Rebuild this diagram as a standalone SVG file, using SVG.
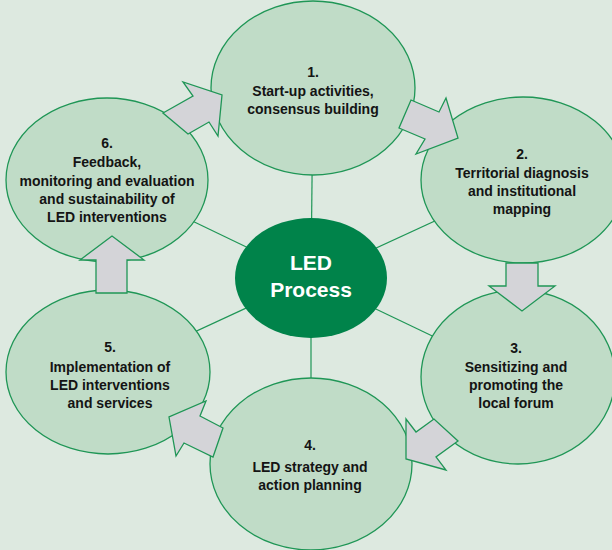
<svg xmlns="http://www.w3.org/2000/svg" width="612" height="550" viewBox="0 0 612 550">
<style>
.bg{fill:#dde9e0}
.node{fill:#c0dcc7;stroke:#1f9656;stroke-width:1.3}
.center{fill:#00834a}
.arrow{fill:#d4d4d8;stroke:#1f9656;stroke-width:1.3;stroke-linejoin:miter}
.conn{stroke:#1f9656;stroke-width:1.2;fill:none}
text{font-family:"Liberation Sans",Arial,sans-serif;font-weight:bold;font-size:14px;fill:#141414;text-anchor:middle}
.ct{font-size:21px;fill:#ffffff}
</style>
<rect class="bg" x="0" y="0" width="612" height="550"/>
<g id="connectors">
<line class="conn" x1="311" y1="278" x2="313" y2="88"/>
<line class="conn" x1="311" y1="278" x2="524" y2="180"/>
<line class="conn" x1="311" y1="278" x2="518" y2="377"/>
<line class="conn" x1="311" y1="278" x2="311" y2="464"/>
<line class="conn" x1="311" y1="278" x2="108" y2="372"/>
<line class="conn" x1="311" y1="278" x2="107" y2="180"/>
</g>
<g id="node1">
<ellipse class="node" cx="313" cy="88" rx="102" ry="87"/>
<text x="313" y="77">1.</text>
<text x="313" y="96">Start-up activities,</text>
<text x="313" y="114">consensus building</text>
</g>
<g id="node2">
<ellipse class="node" cx="523" cy="180" rx="102" ry="83"/>
<text x="522" y="159">2.</text>
<text x="522" y="178">Territorial diagnosis</text>
<text x="522" y="196">and institutional</text>
<text x="522" y="214">mapping</text>
</g>
<g id="node3">
<ellipse class="node" cx="518" cy="377" rx="97" ry="87"/>
<text x="516" y="353">3.</text>
<text x="516" y="372">Sensitizing and</text>
<text x="516" y="390">promoting the</text>
<text x="516" y="408">local forum</text>
</g>
<g id="node4">
<ellipse class="node" cx="311" cy="464" rx="101" ry="86"/>
<text x="310" y="450">4.</text>
<text x="310" y="472">LED strategy and</text>
<text x="310" y="490">action planning</text>
</g>
<g id="node5">
<ellipse class="node" cx="108" cy="372" rx="102" ry="82"/>
<text x="110" y="352">5.</text>
<text x="110" y="372">Implementation of</text>
<text x="110" y="390">LED interventions</text>
<text x="110" y="408">and services</text>
</g>
<g id="node6">
<ellipse class="node" cx="107" cy="180" rx="101" ry="82"/>
<text x="107" y="148">6.</text>
<text x="107" y="167">Feedback,</text>
<text x="107" y="186">monitoring and evaluation</text>
<text x="107" y="204">and sustainability of</text>
<text x="107" y="222">LED interventions</text>
</g>
<g id="arrows">
<polygon class="arrow" points="163,113 193,96 183,82 222,95 218,136 209,122 188,134"/>
<polygon class="arrow" points="411,100 439,112 446,98 458,138 416,154 425,139 399,128"/>
<polygon class="arrow" points="506,263 538,263 538,286 555,286 522,311 489,286 506,286"/>
<polygon class="arrow" points="434,419 416,432 406,419 406,459 446,470 436,457 458,441"/>
<polygon class="arrow" points="206,401 200,416 223,428 213,457 184,443 176,456 169,417"/>
<polygon class="arrow" points="96,293 96,260 80,260 112,236 144,260 127,260 127,293"/>
</g>
<g id="center">
<ellipse class="center" cx="311" cy="278" rx="76" ry="60"/>
<text class="ct" x="311" y="270">LED</text>
<text class="ct" x="311" y="297">Process</text>
</g>
</svg>
